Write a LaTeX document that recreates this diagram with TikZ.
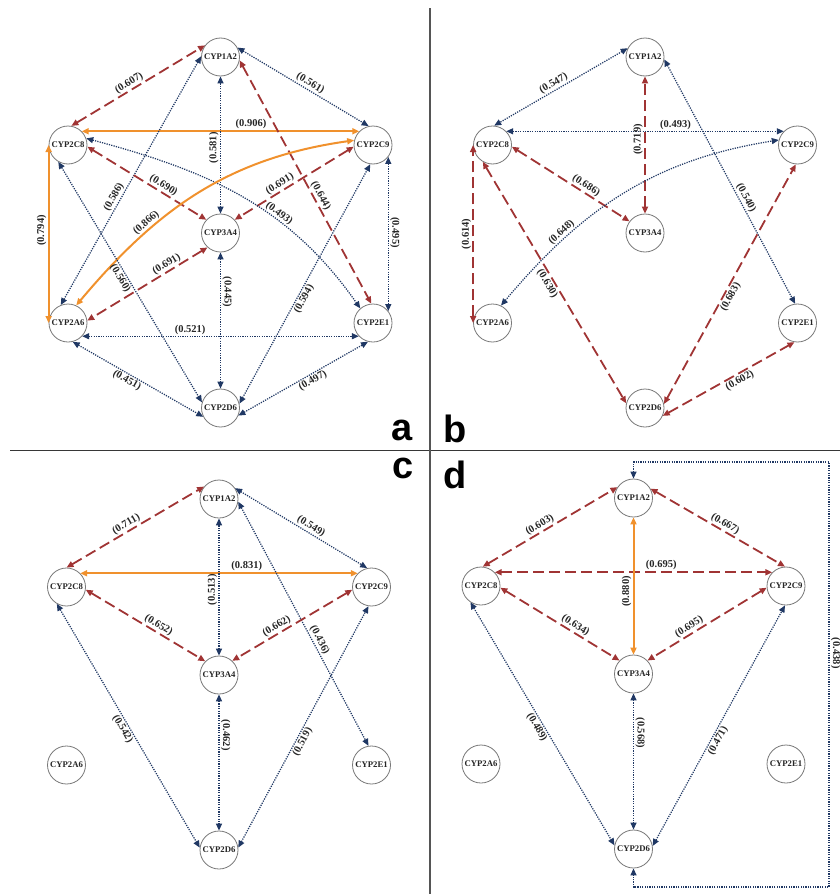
\documentclass[tikz,border=0pt]{standalone}
\usepackage{fontspec}
\setmainfont{Liberation Serif}
\newfontfamily\panelfont{Liberation Sans}
\usetikzlibrary{arrows.meta}

\definecolor{edgeblue}{RGB}{32,56,100}
\definecolor{edgered}{RGB}{160,52,52}
\definecolor{edgeorange}{RGB}{240,145,45}
\definecolor{ringgray}{RGB}{120,120,120}
\definecolor{rulegray}{RGB}{55,55,55}

\tikzset{
  >={Triangle[length=7pt,width=6pt]},
  enzyme/.style={circle, draw=ringgray, line width=0.8pt, fill=white,
    minimum size=38pt, inner sep=0pt, text=black!85,
    font=\fontsize{8.7}{9}\selectfont\bfseries},
  linkblue/.style={<->, edgeblue, line width=1.25pt, dash pattern=on 1.2pt off 1.2pt},
  linkred/.style={<->, edgered, line width=1.8pt, dash pattern=on 11pt off 5pt},
  linkorange/.style={<->, edgeorange, line width=2pt},
  wlab/.style={sloped, inner sep=1.2pt, text=black!85,
    font=\fontsize{10.5}{12}\selectfont\bfseries},
  tag/.style={anchor=base west, inner sep=0pt,
    font=\panelfont\fontsize{38}{40}\selectfont\bfseries}
}

% the seven enzymes of one panel, placed relative to CYP1A2
\newcommand\enzymes[1]{%
  \node[enzyme] (#1P1) at (0,0)        {CYP1A2};
  \node[enzyme] (#1C8) at (-152.5,88)  {CYP2C8};
  \node[enzyme] (#1C9) at (152.5,88)   {CYP2C9};
  \node[enzyme] (#1A4) at (0,176)      {CYP3A4};
  \node[enzyme] (#1A6) at (-152.5,266) {CYP2A6};
  \node[enzyme] (#1E1) at (152.5,266)  {CYP2E1};
  \node[enzyme] (#1D6) at (0,351)      {CYP2D6};
}

\begin{document}
\begin{tikzpicture}[x=1pt,y=-1pt]
\useasboundingbox (0,0) rectangle (840,894);

% panel dividers
\draw[rulegray, line width=1.6pt] (10,450.5) -- (840,450.5);
\draw[rulegray!85, line width=1.6pt] (430,8) -- (430,894);

% panel letters
\node[tag] (taga) at (391,440) {a};
\node[tag] (tagb) at (443,442) {b};
\node[tag] (tagc) at (392,478) {c};
\node[tag] (tagd) at (443,488) {d};

% ---------------- panel a ----------------
\begin{scope}[shift={(220.5,57)}]
\enzymes{a}
\draw[linkred] (aC8.80) -- node[wlab,pos=.46,above]{(0.607)} (aP1.143);
\draw[linkblue] (aP1.29) -- node[wlab,pos=.53,above]{(0.561)} (aC9.103);
\draw[linkorange] (aC8.45) -- node[wlab,pos=.61,above]{(0.906)} (aC9.135);
\draw[linkblue] (aA4.90) -- node[wlab,pos=.48,above]{(0.581)} (aP1.270);
\draw[linkblue] (aP1.178) -- node[wlab,pos=.58,above]{(0.586)} (aA6.112);
\draw[linkred] (aP1.-10) -- node[wlab,pos=.57,above]{(0.644)} (aE1.95);
\draw[linkred] (aC8.-5) -- node[wlab,pos=.61,above]{(0.690)} (aA4.137);
\draw[linkred] (aC9.185) -- node[wlab,pos=.59,above]{(0.691)} (aA4.43);
\draw[linkblue] (aC8.20) to[out=-15,in=125] node[wlab,pos=.63,above]{(0.493)} (aE1.131);
\draw[linkorange] (aA6.65) to[out=50,in=188] node[wlab,pos=.31,above]{(0.866)} (aC9.166);
\draw[linkorange] (aA6.west) -- node[wlab,pos=.52,above]{(0.794)} (aC8.west);
\draw[linkblue] (aC8.-120) -- node[wlab,pos=.47,below]{(0.560)} (aD6.163);
\draw[linkblue] (aD6.13) -- node[wlab,pos=.45,below]{(0.594)} (aC9.-98);
\draw[linkblue] (aC9.-38) -- node[wlab,pos=.49,above]{(0.495)} (aE1.38);
\draw[linkred] (aA4.-132) -- node[wlab,pos=.31,above]{(0.691)} (aA6.7);
\draw[linkblue] (aA4.270) -- node[wlab,pos=.29,above]{(0.445)} (aD6.90);
\draw[linkblue] (aA6.-43) -- node[wlab,pos=.39,above]{(0.521)} (aE1.-137);
\draw[linkblue] (aA6.-76) -- node[wlab,pos=.44,below]{(0.451)} (aD6.-153);
\draw[linkblue] (aD6.-23) -- node[wlab,pos=.55,below]{(0.497)} (aE1.-105);
\end{scope}

% ---------------- panel b ----------------
\begin{scope}[shift={(645,57)}]
\enzymes{b}
\draw[linkblue] (bP1.153) -- node[wlab,pos=.53,above]{(0.547)} (bC8.85);
\draw[linkblue] (bC8.45) -- node[wlab,pos=.61,above]{(0.493)} (bC9.135);
\draw[linkred] (bA4.90) -- node[wlab,pos=.54,above]{(0.719)} (bP1.270);
\draw[linkblue] (bP1.-7) -- node[wlab,pos=.58,above]{(0.540)} (bE1.97);
\draw[linkred] (bC8.-5) -- node[wlab,pos=.6,above]{(0.686)} (bA4.143);
\draw[linkblue] (bA6.64) to[out=50,in=189] node[wlab,pos=.27,above]{(0.648)} (bC9.165);
\draw[linkred] (bA6.west) -- node[wlab,pos=.5,above]{(0.614)} (bC8.west);
\draw[linkred] (bC8.-120) -- node[wlab,pos=.49,below]{(0.630)} (bD6.166);
\draw[linkred] (bD6.12) -- node[wlab,pos=.46,below]{(0.683)} (bC9.-95);
\draw[linkred] (bD6.-24) -- node[wlab,pos=.56,below]{(0.602)} (bE1.-99);
\end{scope}

% ---------------- panel c ----------------
\begin{scope}[shift={(219,499)}]
\enzymes{c}
\draw[linkred] (cC8.90) -- node[wlab,pos=.46,above]{(0.711)} (cP1.140);
\draw[linkblue] (cP1.34) -- node[wlab,pos=.55,above]{(0.549)} (cC9.103);
\draw[linkorange] (cC8.45) -- node[wlab,pos=.6,above]{(0.831)} (cC9.135);
\draw[linkblue] (cA4.90) -- node[wlab,pos=.48,above]{(0.513)} (cP1.270);
\draw[linkblue] (cP1.-8) -- node[wlab,pos=.58,above]{(0.436)} (cE1.99);
\draw[linkred] (cC8.-8) -- node[wlab,pos=.58,above]{(0.652)} (cA4.135);
\draw[linkred] (cC9.188) -- node[wlab,pos=.6,above]{(0.662)} (cA4.47);
\draw[linkblue] (cC8.-120) -- node[wlab,pos=.5,below]{(0.542)} (cD6.173);
\draw[linkblue] (cA4.270) -- node[wlab,pos=.3,above]{(0.462)} (cD6.90);
\draw[linkblue] (cD6.7) -- node[wlab,pos=.45,below]{(0.519)} (cC9.-99);
\end{scope}

% ---------------- panel d ----------------
\begin{scope}[shift={(633.5,498)}]
\enzymes{d}
\draw[linkred] (dC8.85) -- node[wlab,pos=.45,above]{(0.603)} (dP1.146);
\draw[linkred] (dP1.29) -- node[wlab,pos=.53,above]{(0.667)} (dC9.93);
\draw[linkred] (dC8.45) -- node[wlab,pos=.6,above]{(0.695)} (dC9.135);
\draw[linkorange] (dA4.90) -- node[wlab,pos=.46,above]{(0.880)} (dP1.270);
\draw[linkred] (dC8.-5) -- node[wlab,pos=.6,above]{(0.634)} (dA4.136);
\draw[linkred] (dC9.185) -- node[wlab,pos=.62,above]{(0.695)} (dA4.44);
\draw[linkblue] (dC8.-123) -- node[wlab,pos=.5,below]{(0.489)} (dD6.169);
\draw[linkblue] (dA4.270) -- node[wlab,pos=.29,above]{(0.568)} (dD6.90);
\draw[linkblue] (dD6.9) -- node[wlab,pos=.45,below]{(0.471)} (dC9.-93);
% CYP1A2 -- CYP2D6 routed round the right-hand side
\coordinate (dtop) at (195.5,-36);
\coordinate (dbot) at (195.5,389);
\draw[linkblue] (dP1.north) |- (dtop)
  -- node[wlab,pos=.45,above]{(0.438)} (dbot) -| (dD6.south);
\end{scope}
\end{tikzpicture}
\end{document}
